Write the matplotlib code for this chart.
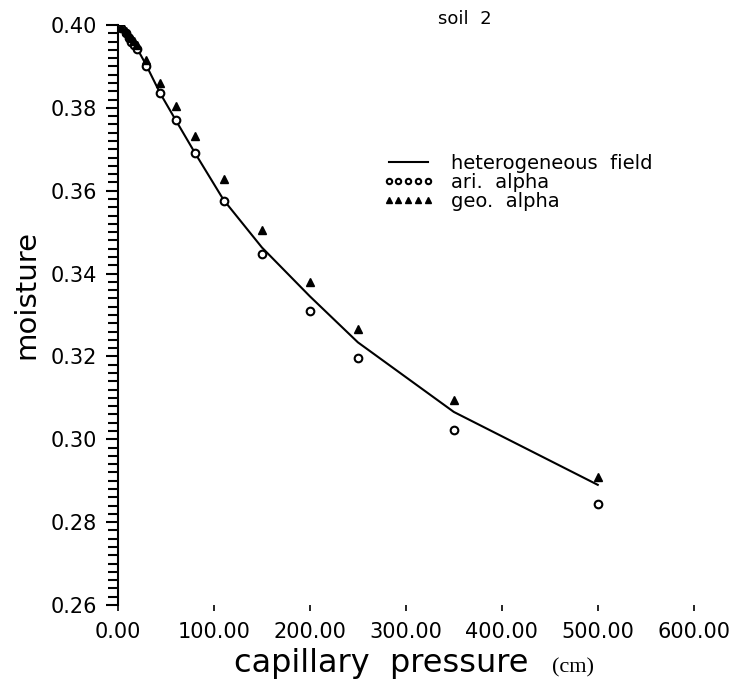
import matplotlib
matplotlib.use('Agg')
import matplotlib.pyplot as plt
from matplotlib.ticker import MultipleLocator, FormatStrFormatter

# capillary pressure (cm)
pressure = [3, 8, 11, 14, 17, 20, 29, 44, 60, 80, 110, 150, 200, 250, 350, 500]

# heterogeneous field (solid line)
line_p = [0, 3, 8, 11, 14, 17, 20, 29, 44, 60, 80, 110, 150, 200, 250, 350, 500]
line_m = [0.4000, 0.3993, 0.3981, 0.3970, 0.3960, 0.3952, 0.3943, 0.3905, 0.3835,
          0.3771, 0.3692, 0.3578, 0.3463, 0.3345, 0.3234, 0.3066, 0.2890]

# ari. alpha (open circles)
ari_m = [0.3993, 0.3981, 0.3969, 0.3959, 0.3952, 0.3942, 0.3901, 0.3836,
         0.3771, 0.3692, 0.3576, 0.3448, 0.3309, 0.3197, 0.3022, 0.2843]

# geo. alpha (filled triangles)
geo_m = [0.3995, 0.3986, 0.3977, 0.3968, 0.3961, 0.3952, 0.3916, 0.3860,
         0.3805, 0.3733, 0.3628, 0.3506, 0.3379, 0.3267, 0.3094, 0.2908]

plt.rcParams['font.family'] = ['DejaVu Sans']

fig = plt.figure(figsize=(7.31, 6.90), dpi=100)
ax = fig.add_axes([0.1614, 0.1232, 0.7876, 0.8406])

ax.plot(line_p, line_m, color='black', lw=1.5, label='heterogeneous  field')
ax.plot(pressure, ari_m, 'o', mfc='white', mec='black', mew=1.5, ms=5.5,
        label='ari.  alpha')
ax.plot(pressure, geo_m, '^', color='black', ms=5.5, label='geo.  alpha')

ax.set_xlim(0, 600)
ax.set_ylim(0.26, 0.40)

ax.xaxis.set_major_locator(MultipleLocator(100))
ax.xaxis.set_major_formatter(FormatStrFormatter('%.2f'))
ax.yaxis.set_major_locator(MultipleLocator(0.02))
ax.yaxis.set_minor_locator(MultipleLocator(0.002))
ax.yaxis.set_major_formatter(FormatStrFormatter('%.2f'))

ax.tick_params(axis='y', which='major', direction='out', length=9, width=1.5,
               labelsize=15, pad=6)
ax.tick_params(axis='y', which='minor', direction='out', length=7, width=1.5)
ax.tick_params(axis='x', which='major', direction='out', length=4, width=1.2,
               labelsize=15, pad=8)

for side in ['top', 'right', 'bottom']:
    ax.spines[side].set_visible(False)
ax.spines['left'].set_linewidth(1.5)

ax.set_ylabel('moisture', fontsize=21)
ax.yaxis.set_label_coords(-0.135, 0.535)

fig.text(0.522, 0.026, 'capillary  pressure', fontsize=23, ha='center',
         va='baseline')
fig.text(0.755, 0.026, '(cm)', fontsize=16, family='Liberation Serif',
         ha='left', va='baseline')

fig.text(0.636, 0.972, 'soil  2', fontsize=13, ha='center', va='center')

leg = ax.legend(loc='upper left', bbox_to_anchor=(0.46, 0.778), frameon=False,
                numpoints=5, handlelength=2.6, markerscale=0.7, fontsize=14,
                handletextpad=0.9, labelspacing=0.0, borderaxespad=0,
                borderpad=0)

fig.savefig('out.png', dpi=100)
